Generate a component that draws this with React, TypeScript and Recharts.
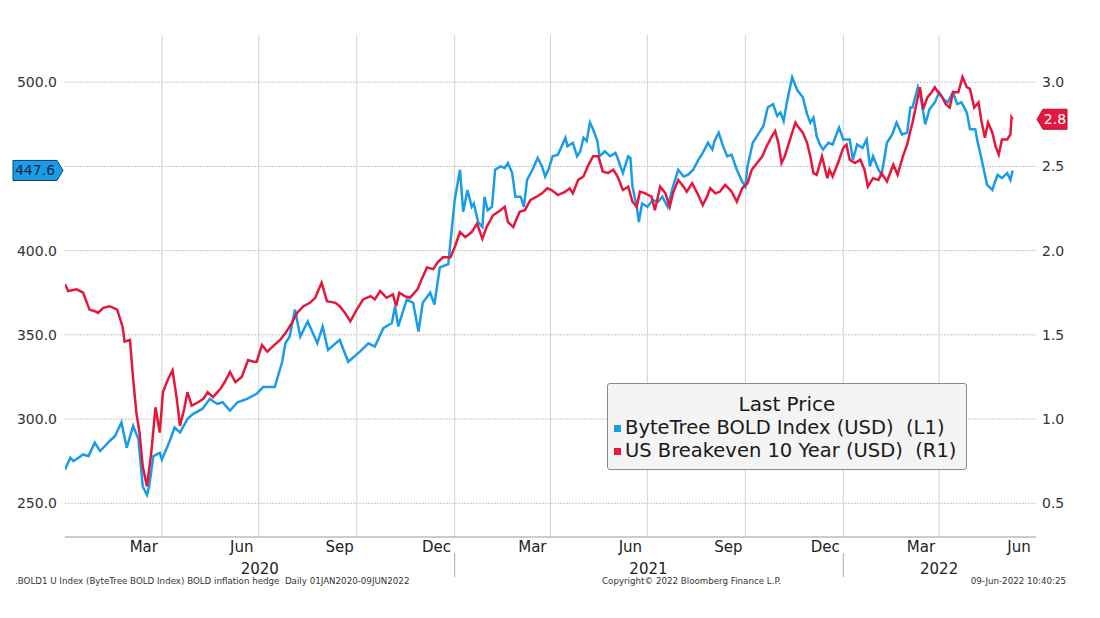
import React from 'react';
import { LineChart, Line, XAxis, YAxis, ReferenceLine } from 'recharts';

// Day offsets from 01-Jan-2020
const boldDays = [0,5,8,17,22,28,33,42,47,53,58,64,69,73,77,79,83,89,91,99,103,108,115,120,129,136,143,148,155,162,171,180,186,197,204,207,211,216,221,228,237,242,247,258,266,277,285,291,299,307,310,313,321,327,332,336,343,347,352,360,363,366,371,374,378,382,384,388,392,394,397,401,404,409,413,416,420,423,428,431,434,439,444,448,451,454,458,463,470,472,477,481,484,487,490,493,496,500,502,507,512,517,519,524,529,531,533,537,539,542,547,552,557,561,566,571,576,581,585,590,595,599,604,608,610,614,618,622,626,631,636,639,641,646,651,656,660,665,669,672,675,678,683,686,688,693,697,700,703,706,709,712,717,721,727,731,737,740,744,749,753,756,759,764,767,772,777,781,786,791,794,796,801,804,808,812,817,821,825,829,834,838,842,847,850,855,857,861,866,871,873,876,880,885,888,890];
const boldValues = [270,277,275,279,278,286,281,287,290,298,283,296,288,260,255,260,278,280,276,288,295,292,300,303,306,312,309,310,305,310,312,315,319,319,334,345,349,365,349,358,345,355,341,347,334,340,345,343,354,357,367,355,371,369,352,369,375,368,390,392,411,430,448,423,436,426,428,417,414,432,424,426,448,450,449,452,446,432,432,426,442,448,455,450,444,448,456,457,467,462,464,456,459,467,465,476,472,465,456,459,456,458,455,446,456,455,438,426,417,428,426,430,429,432,426,438,448,444,445,448,454,458,464,460,465,470,462,456,457,448,441,438,450,464,469,474,485,487,480,482,477,488,503,498,495,491,481,476,479,468,463,460,464,463,473,466,466,454,463,461,466,450,456,448,445,464,469,476,469,470,485,485,497,490,475,484,488,494,490,488,494,487,488,482,472,472,465,454,439,436,440,445,443,446,442,447.6];

const beDays = [0,3,11,17,23,28,31,36,42,49,54,56,61,64,67,70,73,77,81,85,89,92,97,101,105,108,112,115,119,125,130,134,139,146,150,155,160,166,172,177,180,185,190,195,202,207,213,218,224,230,235,241,246,254,258,263,268,274,280,287,291,296,302,308,311,314,319,324,331,335,340,346,350,355,362,366,371,376,382,387,392,396,402,409,413,416,421,427,432,437,443,448,453,457,463,470,474,477,482,487,491,496,501,505,510,515,519,524,529,533,537,540,545,551,554,559,564,568,571,576,581,584,589,594,599,603,606,611,615,620,625,627,631,636,641,645,650,655,659,664,667,670,673,676,681,686,688,693,697,700,703,706,711,716,718,721,726,731,734,737,742,747,751,754,759,764,767,772,778,782,787,791,794,796,800,803,806,810,814,817,820,824,827,831,834,839,843,847,850,854,858,861,864,867,871,874,877,880,885,888,889,890];
const beValues = [1.80,1.76,1.77,1.75,1.65,1.64,1.63,1.66,1.67,1.65,1.55,1.46,1.47,1.24,1.04,0.92,0.72,0.60,0.80,1.07,0.92,1.16,1.24,1.29,1.12,0.96,1.06,1.16,1.08,1.10,1.12,1.16,1.13,1.18,1.22,1.28,1.22,1.25,1.35,1.34,1.34,1.44,1.40,1.43,1.47,1.51,1.57,1.63,1.67,1.69,1.72,1.81,1.70,1.69,1.67,1.63,1.58,1.65,1.71,1.73,1.71,1.76,1.72,1.74,1.67,1.75,1.73,1.72,1.77,1.83,1.90,1.89,1.93,1.96,1.96,2.02,2.11,2.08,2.11,2.16,2.07,2.14,2.21,2.24,2.26,2.17,2.14,2.23,2.24,2.30,2.32,2.34,2.37,2.36,2.33,2.35,2.37,2.34,2.42,2.44,2.50,2.56,2.56,2.47,2.46,2.48,2.44,2.36,2.38,2.29,2.26,2.35,2.34,2.32,2.24,2.38,2.34,2.26,2.34,2.42,2.38,2.35,2.40,2.34,2.27,2.32,2.37,2.34,2.35,2.39,2.36,2.34,2.29,2.37,2.40,2.48,2.52,2.56,2.62,2.68,2.71,2.64,2.52,2.56,2.66,2.76,2.74,2.70,2.64,2.56,2.46,2.45,2.56,2.43,2.48,2.44,2.52,2.61,2.63,2.54,2.52,2.54,2.48,2.38,2.43,2.42,2.46,2.41,2.51,2.45,2.56,2.63,2.71,2.76,2.88,2.97,2.84,2.91,2.94,2.97,2.94,2.91,2.87,2.85,2.94,2.94,3.03,2.97,2.96,2.85,2.88,2.76,2.67,2.76,2.70,2.62,2.57,2.66,2.66,2.69,2.79,2.78];

const leftTicks = [250, 300, 350, 400, 450, 500];
const rightTicks = [0.5, 1.0, 1.5, 2.0, 2.5, 3.0];
const monthStartDays = [0,31,60,91,121,152,182,213,244,274,305,335,366,397,425,456,486,517,547,578,609,639,670,700,731,762,790,821,851,882,912];
const quarterEndDays = [91,182,274,366,456,547,639,731,821];
const monthLabelDays = [74,166,258,349,439,531,623,714,804,896];
const monthLabels = ['Mar','Jun','Sep','Dec','Mar','Jun','Sep','Dec','Mar','Jun'];
const yearLabelDays = [183,548,821];
const yearLabels = ['2020','2021','2022'];
const yearBreakDays = [366,731];

const BLUE = '#1a9de6';
const RED = '#e5173c';
const FONT = '"DejaVu Sans", Verdana, sans-serif';

const boldData = boldDays.map((d, i) => ({ d, v: boldValues[i] }));
const beData = beDays.map((d, i) => ({ d, v: beValues[i] }));
const lastBold = boldValues[boldValues.length - 1];
const lastBE = beValues[beValues.length - 1];

const LeftBadge = (props: any) => {
  const { viewBox } = props;
  const x = viewBox.x;
  const y = viewBox.y;
  const pts = `${x - 52},${y - 10} ${x - 8},${y - 10} ${x - 2},${y} ${x - 8},${y + 10} ${x - 52},${y + 10}`;
  return (
    <g>
      <polygon points={pts} fill={BLUE} stroke="#0d3f70" strokeWidth={1} />
      <text x={x - 30} y={y + 5} textAnchor="middle" fontSize={14} fill="#0b2545" fontFamily={FONT}>
        {lastBold.toFixed(1)}
      </text>
    </g>
  );
};

const RightBadge = (props: any) => {
  const { viewBox } = props;
  const X = viewBox.x + viewBox.width;
  const y = viewBox.y;
  const pts = `${X + 1},${y} ${X + 7},${y - 10} ${X + 31},${y - 10} ${X + 31},${y + 10} ${X + 7},${y + 10}`;
  return (
    <g>
      <polygon points={pts} fill={RED} stroke="#b00d2a" strokeWidth={1} />
      <text x={X + 19} y={y + 5} textAnchor="middle" fontSize={14} fill="#ffffff" fontFamily={FONT}>
        {lastBE.toFixed(1)}
      </text>
    </g>
  );
};

const MonthTick = (props: any) => {
  const { x, y, payload } = props;
  const idx = monthLabelDays.indexOf(payload.value);
  return (
    <text x={x} y={y + 11} textAnchor="middle" fontSize={15} fill="#222" fontFamily={FONT}>
      {idx >= 0 ? monthLabels[idx] : ''}
    </text>
  );
};

const YearTick = (props: any) => {
  const { x, y, payload } = props;
  if (yearBreakDays.includes(payload.value)) {
    return <line x1={x} x2={x} y1={y - 10} y2={y + 14} stroke="#aaaaaa" strokeWidth={1} />;
  }
  const idx = yearLabelDays.indexOf(payload.value);
  return (
    <text x={x} y={y + 11} textAnchor="middle" fontSize={15} fill="#222" fontFamily={FONT}>
      {idx >= 0 ? yearLabels[idx] : ''}
    </text>
  );
};

export default function App() {
  return (
    <div style={{ position: 'absolute', left: 0, top: 0, width: 1100, height: 618, background: '#ffffff', fontFamily: FONT, overflow: 'hidden' }}>
      <LineChart width={1100} height={618} margin={{ top: 35, right: 0, left: 0, bottom: 37 }}>
        <XAxis
          xAxisId="main"
          dataKey="d"
          type="number"
          domain={[0, 912]}
          allowDataOverflow
          ticks={monthStartDays}
          interval={0}
          tick={false}
          tickSize={4}
          height={4}
          axisLine={{ stroke: '#9a9a9a' }}
          tickLine={{ stroke: '#9a9a9a' }}
        />
        <XAxis
          xAxisId="months"
          dataKey="d"
          type="number"
          domain={[0, 912]}
          allowDataOverflow
          ticks={monthLabelDays}
          interval={0}
          tick={<MonthTick />}
          tickSize={0}
          tickMargin={0}
          height={18}
          axisLine={false}
          tickLine={false}
        />
        <XAxis
          xAxisId="years"
          dataKey="d"
          type="number"
          domain={[0, 912]}
          allowDataOverflow
          ticks={[...yearLabelDays, ...yearBreakDays].sort((a, b) => a - b)}
          interval={0}
          tick={<YearTick />}
          tickSize={0}
          tickMargin={4}
          height={22}
          axisLine={false}
          tickLine={false}
        />
        <YAxis
          yAxisId="left"
          orientation="left"
          type="number"
          domain={[230, 528]}
          allowDataOverflow
          ticks={leftTicks}
          interval={0}
          width={65}
          axisLine={false}
          tickLine={false}
          tickSize={0}
          tickMargin={8}
          tickFormatter={(v: number) => (v === 450 ? '' : v.toFixed(1))}
          tick={{ fontSize: 14, fill: '#333', fontFamily: FONT }}
        />
        <YAxis
          yAxisId="right"
          orientation="right"
          type="number"
          domain={[0.3, 3.28]}
          allowDataOverflow
          ticks={rightTicks}
          interval={0}
          width={64}
          axisLine={false}
          tickLine={false}
          tickSize={0}
          tickMargin={6}
          tickFormatter={(v: number) => v.toFixed(1)}
          tick={{ fontSize: 14, fill: '#333', fontFamily: FONT }}
        />
        {leftTicks.map((t) => (
          <ReferenceLine key={'h' + t} xAxisId="main" yAxisId="left" y={t} stroke="#c4c4c4" strokeDasharray="2 1" strokeWidth={1} />
        ))}
        {quarterEndDays.map((d) => (
          <ReferenceLine key={'q' + d} xAxisId="main" yAxisId="left" x={d} stroke="#d2d2d2" strokeWidth={1} />
        ))}
        <Line
          data={boldData}
          dataKey="v"
          xAxisId="main"
          yAxisId="left"
          type="linear"
          stroke={BLUE}
          strokeWidth={2.5}
          dot={false}
          isAnimationActive={false}
        />
        <Line
          data={beData}
          dataKey="v"
          xAxisId="main"
          yAxisId="right"
          type="linear"
          stroke={RED}
          strokeWidth={2.5}
          dot={false}
          isAnimationActive={false}
        />
        <ReferenceLine xAxisId="main" yAxisId="left" y={lastBold} stroke="none" ifOverflow="visible" label={(p: any) => <LeftBadge {...p} />} />
        <ReferenceLine xAxisId="main" yAxisId="right" y={lastBE} stroke="none" ifOverflow="visible" label={(p: any) => <RightBadge {...p} />} />
      </LineChart>

      <div style={{ position: 'absolute', left: 607, top: 383, width: 358, height: 85, border: '1px solid #8a8a8a', borderRadius: 3, background: '#f4f4f4', color: '#1a1a1a', boxSizing: 'content-box' }}>
        <div style={{ textAlign: 'center', fontSize: 20, lineHeight: '23px', marginTop: 9 }}>Last Price</div>
        <div style={{ fontSize: 19.5, lineHeight: '23px', paddingLeft: 6, whiteSpace: 'pre' }}>
          <span style={{ display: 'inline-block', width: 7, height: 7, background: BLUE, marginRight: 4, verticalAlign: 'middle' }} />
          {'ByteTree BOLD Index (USD)  (L1)'}
        </div>
        <div style={{ fontSize: 19.5, lineHeight: '23px', paddingLeft: 6, whiteSpace: 'pre' }}>
          <span style={{ display: 'inline-block', width: 7, height: 7, background: RED, marginRight: 4, verticalAlign: 'middle' }} />
          {'US Breakeven 10 Year (USD)  (R1)'}
        </div>
      </div>

      <div style={{ position: 'absolute', left: 15, top: 576, fontSize: 8.7, color: '#333', whiteSpace: 'pre' }}>
        {'.BOLD1 U Index (ByteTree BOLD Index) BOLD inflation hedge  Daily 01JAN2020-09JUN2022'}
      </div>
      <div style={{ position: 'absolute', left: 602, top: 576, fontSize: 8.7, color: '#333', whiteSpace: 'pre' }}>
        {'Copyright\u00A9 2022 Bloomberg Finance L.P.'}
      </div>
      <div style={{ position: 'absolute', right: 34, top: 576, fontSize: 8.7, color: '#333', whiteSpace: 'pre' }}>
        {'09-Jun-2022 10:40:25'}
      </div>
    </div>
  );
}
